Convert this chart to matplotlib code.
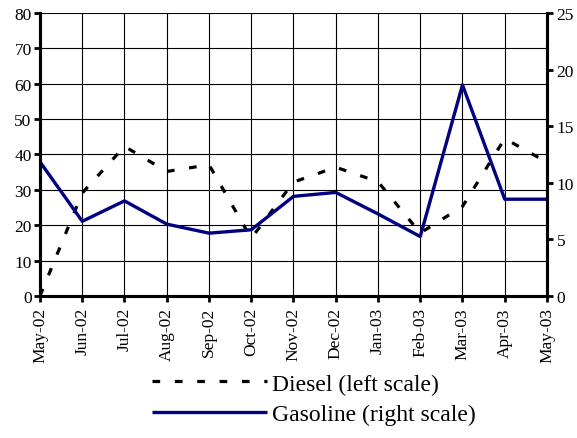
import matplotlib.pyplot as plt
import numpy as np

months = ['May-02', 'Jun-02', 'Jul-02', 'Aug-02', 'Sep-02', 'Oct-02', 'Nov-02',
          'Dec-02', 'Jan-03', 'Feb-03', 'Mar-03', 'Apr-03', 'May-03']
diesel = [0, 29.1, 42.3, 35.2, 37.1, 16.3, 32.2, 36.4, 32.3, 17.8, 25.3, 44.5, 37.8]
gasoline = [11.85, 6.6, 8.4, 6.35, 5.55, 5.85, 8.8, 9.15, 7.25, 5.25, 18.65, 8.55, 8.55]

plt.rcParams['font.family'] = ['Liberation Serif', 'DejaVu Serif']

fig = plt.figure(figsize=(5.77, 4.39), dpi=100)
ax = fig.add_axes([0.0693, 0.3235, 0.8787, 0.6446])
ax2 = ax.twinx()

x = np.arange(len(months))

# diesel on left scale
l1, = ax.plot(x, diesel, color='black', lw=2.3, dashes=(2.4, 4.6),
              label='Diesel (left scale)')
# gasoline on right scale
l2, = ax2.plot(x, gasoline, color='#000080', lw=2.4, solid_capstyle='butt',
               label='Gasoline (right scale)')

ax.set_xlim(0, 12)
ax.set_ylim(0, 80)
ax2.set_ylim(0, 25)
ax.set_yticks(range(0, 81, 10))
ax2.set_yticks(range(0, 26, 5))
ax.set_xticks(x)
ax.set_xticklabels(months, rotation=90, fontsize=12.5)
ax.tick_params(axis='y', labelsize=12.5, width=2, length=4, direction='out', pad=2)
ax.tick_params(axis='x', width=2, length=4, direction='out', pad=4)
ax2.tick_params(axis='y', labelsize=12.5, width=2, length=4, direction='out', pad=3)

ax.grid(True, color='black', lw=0.8)
ax.set_axisbelow(True)

for a in (ax, ax2):
    a.spines['top'].set_visible(False)
    a.spines['left'].set_linewidth(2.2)
    a.spines['bottom'].set_linewidth(2.2)
    a.spines['right'].set_linewidth(2.2)

fig.legend(handles=[l1, l2], loc='upper left', bbox_to_anchor=(0.263, 0.148),
           frameon=False, fontsize=17, handlelength=4.9, handletextpad=0.2,
           labelspacing=0.38, borderpad=0, borderaxespad=0)

fig.savefig('out.png', dpi=100)
